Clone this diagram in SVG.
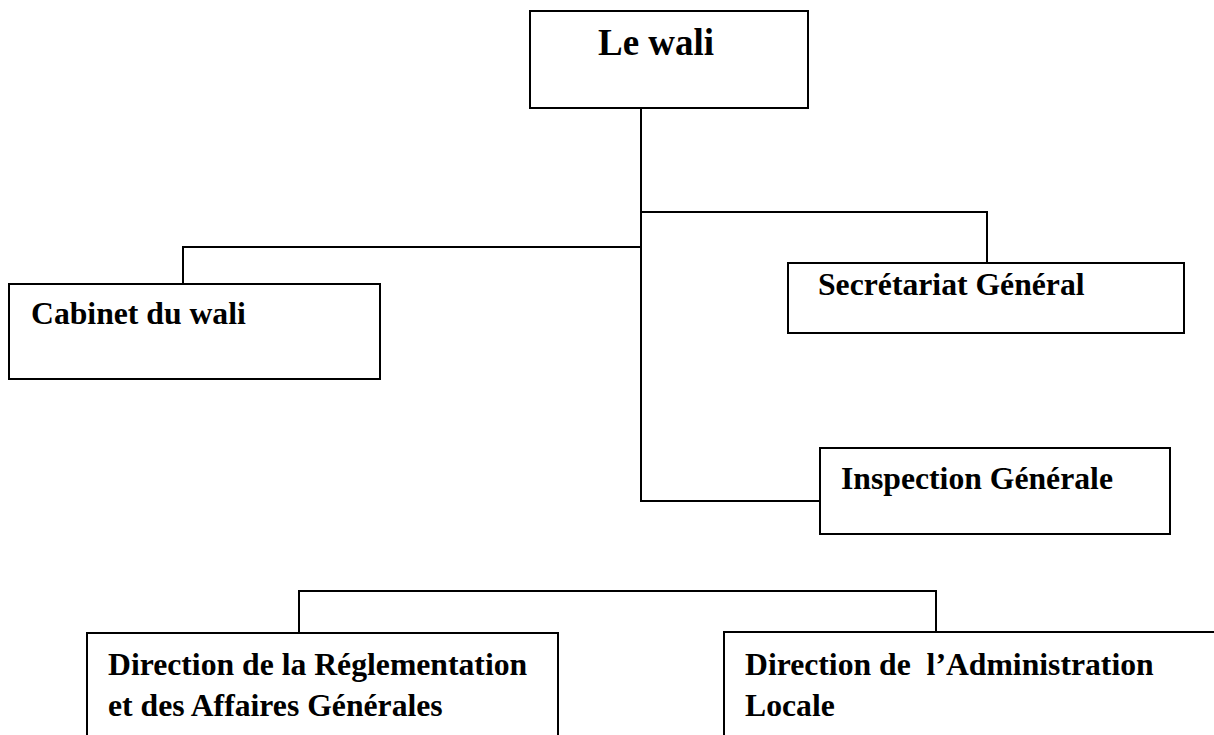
<svg xmlns="http://www.w3.org/2000/svg" width="1214" height="735" viewBox="0 0 1214 735">
<style>
.box{fill:#fff;stroke:#000;stroke-width:2}
.ln{fill:none;stroke:#000;stroke-width:2}
text{font-family:"Liberation Serif","Times New Roman",serif;font-weight:bold;font-size:31.7px;fill:#000;white-space:pre}
</style>
<rect width="1214" height="735" fill="#fff"/>
<g id="connectors">
<path class="ln" d="M641 108 V501 H824"/>
<path class="ln" d="M641 212 H987 V262"/>
<path class="ln" d="M640 247 H183 V284"/>
<path class="ln" d="M299 633 V591 H936 V631"/>
</g>
<g id="wali">
<rect class="box" x="530" y="11" width="278" height="97"/>
<text x="598" y="55" style="font-size:37px">Le wali</text>
</g>
<g id="cabinet">
<rect class="box" x="9" y="284" width="371" height="95"/>
<text x="31" y="324">Cabinet du wali</text>
</g>
<g id="secretariat">
<rect class="box" x="788" y="263" width="396" height="70"/>
<text x="818" y="295">Secrétariat Général</text>
</g>
<g id="inspection">
<rect class="box" x="820" y="448" width="350" height="86"/>
<text x="841" y="489">Inspection Générale</text>
</g>
<g id="drag">
<rect class="box" x="87" y="633" width="471" height="120"/>
<text x="108" y="675">Direction de la Réglementation</text>
<text x="108" y="716">et des Affaires Générales</text>
</g>
<g id="dal">
<rect class="box" x="724" y="632" width="520" height="120"/>
<text x="745" y="675" xml:space="preserve">Direction de  l’Administration</text>
<text x="745" y="716">Locale</text>
</g>
</svg>
